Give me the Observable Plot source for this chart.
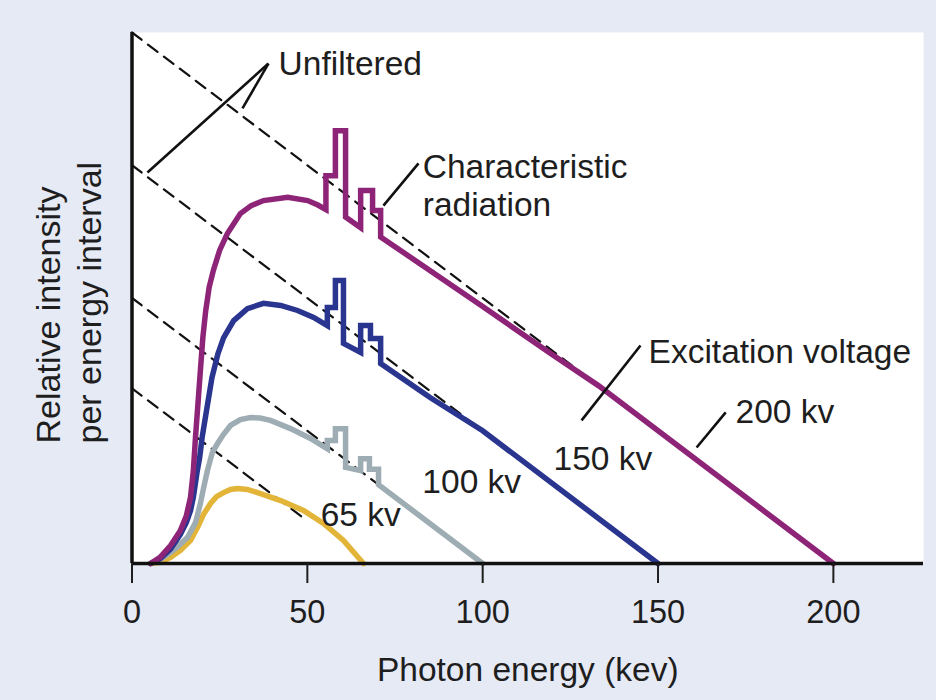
<!DOCTYPE html>
<html><head><meta charset="utf-8">
<script src="https://cdn.jsdelivr.net/npm/d3@7"></script>
<script src="https://cdn.jsdelivr.net/npm/@observablehq/plot@0.6"></script>
<style>
html,body{margin:0;padding:0;background:#e6eaf5;}
#chart{width:936px;height:700px;}
</style></head><body><div id="chart"></div>
<script>
// x ticks (keV)
const tickValues = [0, 50, 100, 150, 200];

// Unfiltered (Kramers) lines: start intensity at E=0, visible end energy
const kvLevels = [200, 150, 100, 66];
const dashEnds = [135, 100, 72, 50];

// Filtered spectra [energy keV, relative intensity]
const spectrum200 = [[5.3,0],[8,2.3],[11,6.8],[13.8,12.4],[15.5,18],[16.7,25],[17.5,35],[18.1,47.5],[18.8,60],[19.5,72.7],[20.2,85],[21,95],[22,104],[23.2,110.4],[25,118],[27.2,124.3],[30.9,131.8],[34,134.8],[37.5,136.7],[44.4,137.9],[50.1,136.7],[53,135],[55.3,133.3],[55.3,146],[58,146],[58,163],[60.9,163],[60.9,130.5],[65.2,126.5],[65.2,140.5],[68.6,140.5],[68.6,133],[70.9,133],[70.9,123],[100,96.8],[120,78.5],[133,67],[200,0]];
const spectrum150 = [[5.3,0],[8.1,1.9],[11,5.5],[13.8,11],[15.5,15.5],[16.7,20],[17.5,25],[18.5,34],[19.3,40],[20,47.5],[21.3,58],[22.8,70],[24.5,79],[26.1,85],[29,91.5],[32.9,96],[37.5,98],[42.4,97.2],[47.2,95.3],[51.8,92.7],[55.7,89.6],[55.7,96.4],[58,96.4],[58,106.6],[60.3,106.6],[60.3,82.9],[65.2,79.5],[65.2,89.6],[68,89.6],[68,84.7],[70.9,84.7],[70.9,75.3],[85,62.5],[100,50],[150,0]];
const spectrum100 = [[5.3,0],[9,2.3],[12.4,5.6],[15.8,9.8],[18.1,15.4],[19.5,22.6],[20.5,29],[21.5,35],[22.9,41.8],[24.4,45.2],[26,48.5],[28.1,52],[30.9,54.2],[33.8,55],[36.5,54.8],[39.5,53.9],[45.2,50.8],[50.9,47.1],[55.7,43.2],[55.7,46.3],[58,46.3],[58,50.8],[60.9,50.8],[60.9,36.2],[65.2,35],[65.2,39.5],[67.7,39.5],[67.7,35.5],[70.3,35.5],[70.3,29.7],[100,0]];
const spectrum65 = [[5.3,0],[8.1,0.4],[11,2.3],[13.8,4.9],[16.7,8.7],[18.7,13.6],[20.4,18.5],[22.4,22.6],[24.1,25.2],[26.1,26.7],[28.1,27.9],[30.1,28.2],[32.9,27.9],[35.8,26.7],[42.4,23.7],[48.9,20],[54.6,15.1],[60.3,8.7],[66,0]];

const seriesColors = ["#8e2478", "#2a3590", "#9eacb3", "#e2b539"];

// Annotation labels
const labelTexts = ["Unfiltered", "Characteristic\nradiation", "Excitation voltage", "200 kv", "150 kv", "100 kv", "65 kv"];
const labelE = [41.8, 82.9, 147.3, 172.1, 120.2, 82.8, 53.8];
const labelI = [188.5, 142.8, 80.3, 57.7, 40, 31.3, 18.9];

// Leader lines
const leaderE1 = [38.9, 38.9, 81.7, 145, 169.3];
const leaderI1 = [188.3, 188.3, 150.7, 82.1, 56.9];
const leaderE2 = [4.4, 31.5, 71.7, 128.2, 161];
const leaderI2 = [147.3, 171.4, 134.8, 53.9, 43.7];

const dashed = kvLevels.flatMap((k, i) => [{E: 0, I: k, kv: k}, {E: dashEnds[i], I: k - dashEnds[i], kv: k}]);
const labels = labelTexts.map((t, i) => ({t, E: labelE[i], I: labelI[i]}));
const leaders = leaderE1.map((e, i) => ({x1: e, y1: leaderI1[i], x2: leaderE2[i], y2: leaderI2[i]}));
const spectra = [spectrum200, spectrum150, spectrum100, spectrum65];

const font = "'Liberation Sans', Arial, Helvetica, sans-serif";

const chart = Plot.plot({
  width: 936,
  height: 700,
  marginLeft: 131.5,
  marginRight: 13,
  marginTop: 32,
  marginBottom: 137,
  x: {domain: [0, 225.7]},
  y: {domain: [0, 200], axis: null},
  style: {background: "transparent", fontFamily: font, color: "#1e1e1e", overflow: "visible"},
  marks: [
    Plot.frame({fill: "white", stroke: "none"}),
    Plot.line(dashed, {x: "E", y: "I", z: "kv", stroke: "#111", strokeWidth: 2.2, strokeDasharray: "12,8"}),
    ...spectra.slice().reverse().map((s, j) => Plot.line(s, {
      stroke: seriesColors[3 - j], strokeWidth: 5.5, strokeLinejoin: "miter", strokeMiterlimit: 4
    })),
    Plot.link(leaders, {x1: "x1", y1: "y1", x2: "x2", y2: "y2", stroke: "#111", strokeWidth: 2.6}),
    Plot.text(labels, {x: "E", y: "I", text: "t", textAnchor: "start", lineAnchor: "middle", fontSize: 33.5, lineHeight: 1.14, fill: "#1e1e1e"}),
    Plot.ruleX([0], {stroke: "#111", strokeWidth: 3.5}),
    Plot.ruleY([0], {stroke: "#111", strokeWidth: 3.5}),
    Plot.axisX({ticks: tickValues, tickSize: 20, tickPadding: 16, fontSize: 32.5, strokeWidth: 2, tickFormat: d => String(d), label: null}),
    Plot.text(["Photon energy (kev)"], {frameAnchor: "bottom", dy: 106.8, lineAnchor: "middle", fontSize: 33.5, fill: "#1e1e1e"}),
    Plot.text([{E: 0, I: 45.2, t: "Relative intensity\nper energy interval"}], {x: "E", y: "I", text: "t", rotate: -90, textAnchor: "start", lineAnchor: "middle", lineHeight: 1.206, fontSize: 34, dx: -64.9, fill: "#1e1e1e"})
  ]
});
document.getElementById("chart").append(chart);
</script></body></html>
